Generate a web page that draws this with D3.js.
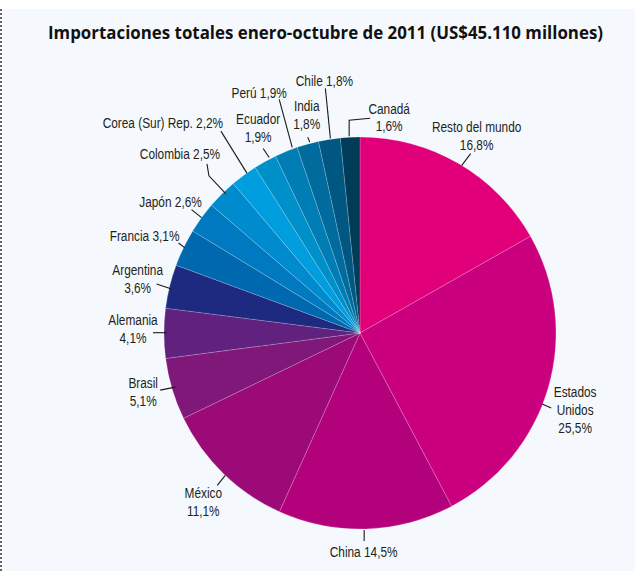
<!DOCTYPE html>
<html>
<head>
<meta charset="utf-8">
<script src="https://cdn.jsdelivr.net/npm/d3@7"></script>
<style>
  html, body { margin: 0; padding: 0; background: #ffffff; }
</style>
</head>
<body>
<div id="chart"></div>
<script>
// Data
var countries = ["Resto del mundo", "Estados Unidos", "China", "México", "Brasil", "Alemania",
  "Argentina", "Francia", "Japón", "Colombia", "Corea (Sur) Rep.", "Ecuador", "Perú",
  "India", "Chile", "Canadá"];
var shares = [16.8, 25.5, 14.5, 11.1, 5.1, 4.1, 3.6, 3.1, 2.6, 2.5, 2.2, 1.9, 1.9, 1.8, 1.8, 1.6];
var labelText = [
  ["Resto del mundo", "16,8%"],
  ["Estados", "Unidos", "25,5%"],
  ["China 14,5%"],
  ["México", "11,1%"],
  ["Brasil", "5,1%"],
  ["Alemania", "4,1%"],
  ["Argentina", "3,6%"],
  ["Francia 3,1%"],
  ["Japón 2,6%"],
  ["Colombia 2,5%"],
  ["Corea (Sur) Rep. 2,2%"],
  ["Ecuador", "1,9%"],
  ["Perú 1,9%"],
  ["India", "1,8%"],
  ["Chile 1,8%"],
  ["Canadá", "1,6%"]
];
var colors = ["#e2007a", "#cb007f", "#b3007b", "#9b0a77", "#7f1878", "#61217e",
  "#1d2a7f", "#0068ae", "#0079c0", "#008bcf", "#009ddf", "#0090c9", "#007db4",
  "#006b9c", "#005882", "#003c58"];

// label layout: leader points and text offset, relative to the slice's outer mid point
var labelLayout = [
  {pts: [[3, 2], [12, -10]], tx: 18, ty: -37},
  {pts: [[-6, 16], [3, 20]], tx: 27, ty: 4},
  {pts: [[-2, 1], [-2, 12]], tx: -2.5, ty: 23},
  {pts: [[2, 2], [-6, 12]], tx: -20, ty: 19},
  {pts: [[3, -2], [-12, 1]], tx: -29, ty: -6},
  {pts: [[3, -0.6], [-11, -0.6]], tx: -31, ty: -13.6},
  {pts: [[2, 2.6], [-13, -2.4]], tx: -32, ty: -16.4},
  {pts: [[1, 0], [-5, -4.7]], tx: -39, ty: -12},
  {pts: [[0, 0], [-10, -8]], tx: -31, ty: -16},
  {pts: [[4, 0], [-13, -18], [-15, -30]], tx: -42, ty: -40},
  {pts: [[3, -2], [-23, -44]], tx: -81, ty: -52},
  {pts: [[4, -4], [-2, -13]], tx: -7, ty: -43},
  {pts: [[6, -4], [-7, -52]], tx: -27, ty: -59},
  {pts: [[2, -2], [0, -7]], tx: -1, ty: -38},
  {pts: [[1, -1], [-4, -51]], tx: -5, ty: -59},
  {pts: [[-1, -1], [-1, -17], [20, -19]], tx: 39, ty: -29}
];

var svgWidth = 635;
var svgHeight = 571;
var cx = 360, cy = 333, radius = 196;
// no narrow face installed, so squeeze Liberation Sans horizontally
var labelFont = "'Liberation Sans', Arial, sans-serif";
var narrow = 0.79;

var svg = d3.select("#chart")
  .append("svg")
  .attr("width", svgWidth)
  .attr("height", svgHeight);

// panel background
svg.append("rect")
  .attr("x", 1)
  .attr("y", 9)
  .attr("width", svgWidth - 1)
  .attr("height", svgHeight - 9)
  .attr("fill", "#f5f9fe");

// dotted left border
svg.append("line")
  .attr("x1", 1).attr("x2", 1)
  .attr("y1", 9).attr("y2", svgHeight)
  .attr("stroke", "#333")
  .attr("stroke-width", 1.5)
  .attr("stroke-dasharray", "2,2");

// Title
svg.append("text")
  .attr("x", 325.5)
  .attr("y", 39)
  .attr("text-anchor", "middle")
  .attr("font-family", "'Open Sans', sans-serif")
  .attr("font-weight", "bold")
  .attr("font-size", "17px")
  .attr("fill", "#111")
  .attr("textLength", 555)
  .attr("lengthAdjust", "spacingAndGlyphs")
  .text("Importaciones totales enero-octubre de 2011 (US$45.110 millones)");

var pie = d3.pie().sort(null).value(d => d);
var arcs = pie(shares);

var arc = d3.arc().innerRadius(0).outerRadius(radius);

var chartGroup = svg.append("g")
  .attr("transform", `translate(${cx}, ${cy})`);

chartGroup.selectAll("path.slice")
  .data(arcs)
  .enter()
  .append("path")
  .attr("class", "slice")
  .attr("d", arc)
  .attr("fill", (d, i) => colors[i])
  .attr("stroke", "rgba(255,255,255,0.3)")
  .attr("stroke-width", 0.6);

// Labels
function anchorPoint(d) {
  var a = (d.startAngle + d.endAngle) / 2;
  return [radius * Math.sin(a), -radius * Math.cos(a)];
}

arcs.forEach(function(d, i) {
  var p = anchorPoint(d);
  var lay = labelLayout[i];
  var pts = lay.pts.map(o => [p[0] + o[0], p[1] + o[1]]);

  chartGroup.append("path")
    .attr("d", d3.line()(pts))
    .attr("fill", "none")
    .attr("stroke", "#1a1a1a")
    .attr("stroke-width", 1.1);

  var t = chartGroup.append("g")
    .attr("transform", `translate(${p[0] + lay.tx}, ${p[1] + lay.ty}) scale(${narrow}, 1)`)
    .append("text")
    .attr("text-anchor", "middle")
    .attr("font-family", labelFont)
    .attr("font-size", "15px")
    .attr("fill", "#231f20");

  labelText[i].forEach(function(line, j) {
    t.append("tspan")
      .attr("x", 0)
      .attr("dy", j === 0 ? "0.35em" : "1.2em")
      .text(line);
  });
});
</script>
</body>
</html>
